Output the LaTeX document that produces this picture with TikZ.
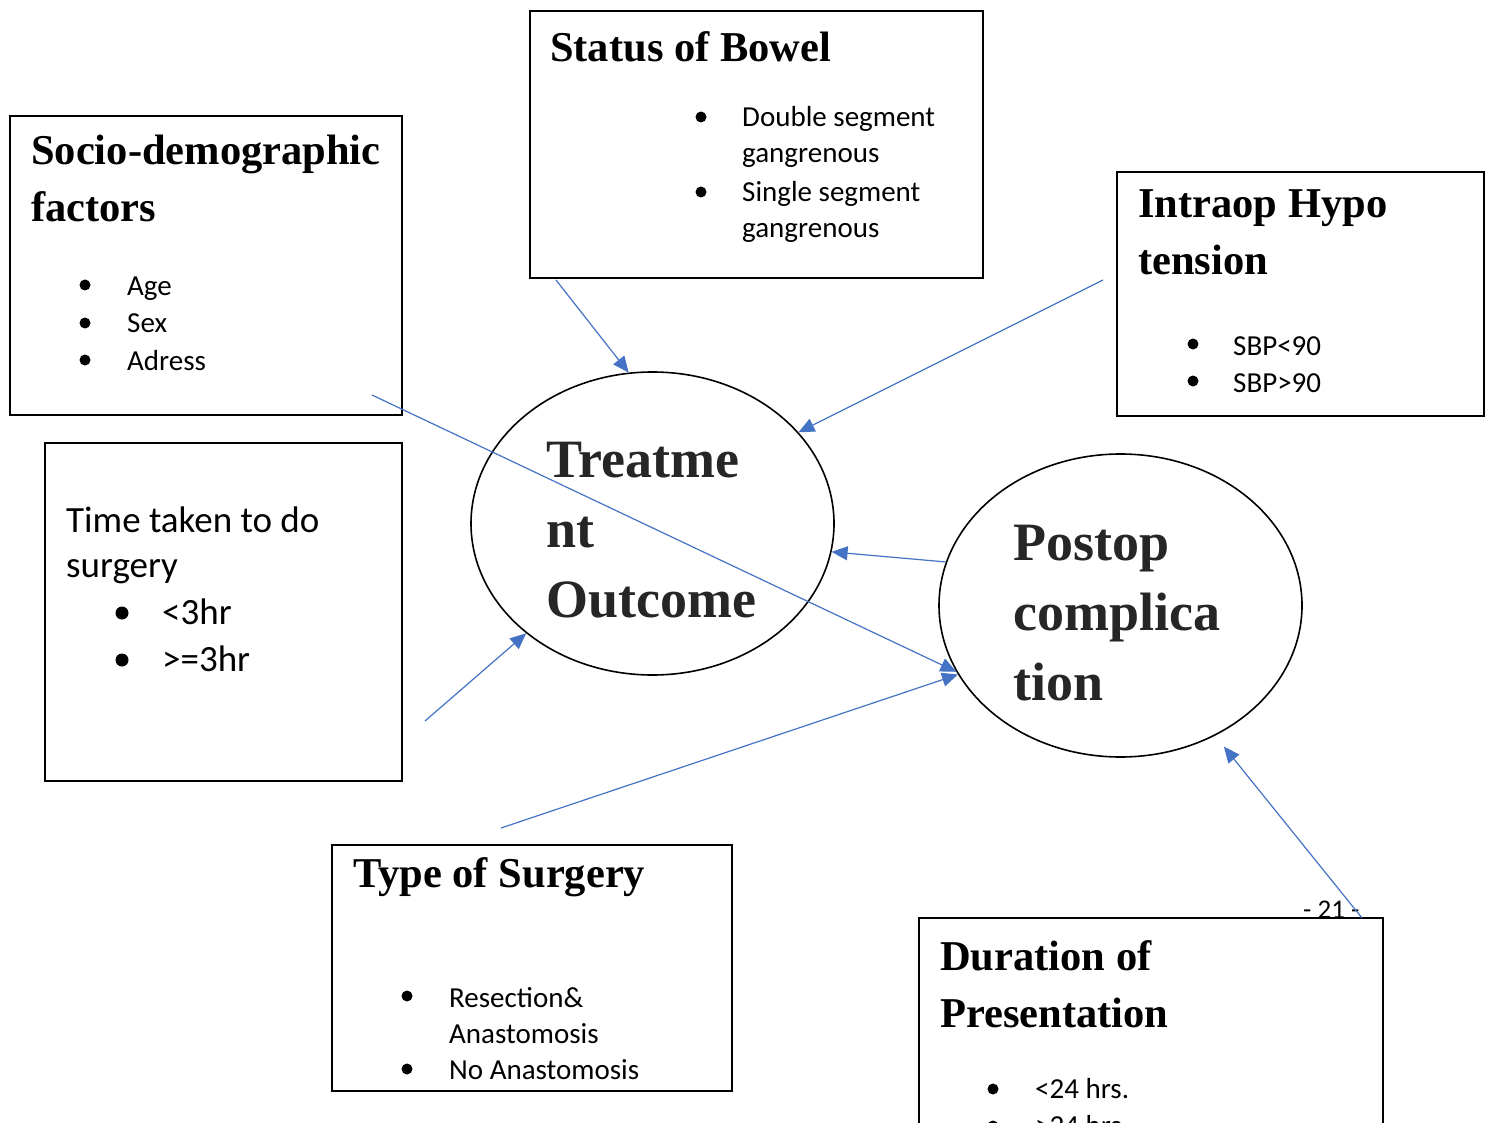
\documentclass[tikz,border=0pt]{standalone}
\usepackage{fontspec}
\setmainfont{Liberation Serif}
\newfontfamily\calib{Carlito}
\usetikzlibrary{shapes.geometric,arrows.meta}
\definecolor{linkblue}{HTML}{4472C4}
\definecolor{darktext}{HTML}{262626}
\tikzset{
  factor/.style={draw, line width=1.5pt, inner sep=0pt},
  outcome/.style={draw, ellipse, line width=1.6pt, inner sep=0pt, minimum width=363pt, minimum height=303pt},
  boxtitle/.style={anchor=base west, align=left, inner sep=0pt, font=\fontsize{42.5}{57}\selectfont\bfseries},
  entry/.style={anchor=base west, align=left, inner sep=0pt, font=\calib\fontsize{29}{36}\selectfont},
  entrylarge/.style={anchor=base west, align=left, inner sep=0pt, font=\calib\fontsize{37}{45}\selectfont},
  ovaltext/.style={anchor=base west, align=left, inner sep=0pt, text=darktext, font=\fontsize{54}{70}\selectfont\bfseries},
  link/.style={draw=linkblue, line width=1.2pt, -{Triangle[length=16pt,width=14pt]}}
}

\begin{document}
\begin{tikzpicture}[x=1pt,y=-1pt]
\useasboundingbox (0,0) rectangle (1491,1123);
\clip (0,0) rectangle (1491,1123);

% the two outcomes (text nodes sit on the baseline of their last line)
\node[outcome] (treat) at (652.5,523.5) {};
\node[ovaltext] (treatT) at (546,617) {Treatme\\nt\\Outcome};
\node[outcome] (postop) at (1120.5,605.5) {};
\node[ovaltext] (postopT) at (1013,700) {Postop\\complica\\tion};

% status of bowel
\node[factor, minimum width=453pt, minimum height=267pt] (bowel) at (756.5,144.5) {};
\node[boxtitle] (bowelT) at (550,62) {Status of Bowel};
\node[entry] (bowelA) at (742,163) {Double segment\\gangrenous};
\node[entry] (bowelB) at (742,238) {Single segment\\gangrenous};
\fill (701,117) circle (5.5pt);
\fill (701,192) circle (5.5pt);

% socio-demographic
\node[factor, minimum width=392pt, minimum height=299pt] (socio) at (206,265.5) {};
\node[boxtitle] (socioT) at (31,222) {Socio-demographic\\factors};
\node[entry, font=\calib\fontsize{29}{37.5}\selectfont] (socioA) at (127,370) {Age\\Sex\\Adress};
\fill (85,285) circle (5.5pt);
\fill (85,323) circle (5.5pt);
\fill (85,360) circle (5.5pt);

% time taken
\node[factor, minimum width=357pt, minimum height=338pt] (time) at (223.5,612) {};
\node[entrylarge] (timeT) at (66,577) {Time taken to do\\surgery};
\node[entrylarge, font=\calib\fontsize{37}{47}\selectfont] (timeA) at (162,671) {<3hr\\>=3hr};
\fill (122,613) circle (6.5pt);
\fill (122,660) circle (6.5pt);

% intraop hypotension
\node[factor, minimum width=367pt, minimum height=244pt] (intraop) at (1300.5,294) {};
\node[boxtitle] (intraopT) at (1138,275) {Intraop Hypo\\tension};
\node[entry, font=\calib\fontsize{29}{37}\selectfont] (intraopA) at (1233,392) {SBP<90\\SBP>90};
\fill (1193,344) circle (5.5pt);
\fill (1193,381) circle (5.5pt);

% type of surgery
\node[factor, minimum width=400pt, minimum height=246pt] (surgery) at (532,968) {};
\node[boxtitle] (surgeryT) at (353,887) {Type of Surgery};
\node[entry] (surgeryA) at (449,1079) {Resection\&\\Anastomosis\\No Anastomosis};
\fill (407,996) circle (5.5pt);
\fill (407,1069) circle (5.5pt);

% duration of presentation (runs off the page)
\node[factor, minimum width=464pt, minimum height=260pt] (duration) at (1151,1048) {};
\node[boxtitle] (durationT) at (940,1027) {Duration of\\Presentation};
\node[entry, font=\calib\fontsize{29}{37}\selectfont] (durationA) at (1035,1135) {<24 hrs.\\>24 hrs.};
\fill (993,1089) circle (5.5pt);
\fill (993,1126) circle (5.5pt);

\node[anchor=base west, inner sep=0pt, font=\calib\fontsize{27}{30}\selectfont] (pagenum) at (1303,918) {- 21 -};

% loose ends of the links
\coordinate (bowelTail) at (556,280);
\coordinate (intraopTail) at (1103,280);
\coordinate (timeTail) at (425,721);
\coordinate (socioTail) at (372,395);
\coordinate (surgeryTail) at (501,828);
\coordinate (durationTail) at (1362,918);

\draw[link] (bowelTail) -- (treat.99);
\draw[link] (intraopTail) -- (treat.32);
\draw[link] (postop.166) -- (treat.-9);
\draw[link] (timeTail) -- (treat.-139);
\draw[link] (socioTail) -- (postop.202);
\draw[link] (surgeryTail) -- (postop.203);
\draw[link, shorten >=14pt] (durationTail) -- (postop.-54);
\end{tikzpicture}
\end{document}
